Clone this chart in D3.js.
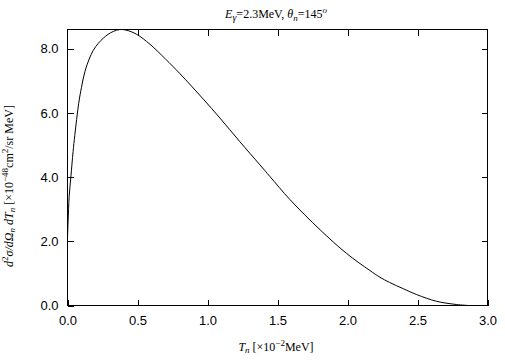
<!DOCTYPE html>
<html>
<head>
<meta charset="utf-8">
<script src="https://d3js.org/d3.v7.min.js"></script>
<style>
  body { margin: 0; background: #fff; }
  svg { display: block; }
  .tick text { font-family: "Liberation Sans", Arial, sans-serif; font-size: 13px; fill: #000; }
  .lbl { font-family: "Liberation Serif", "Times New Roman", serif; font-size: 12px; fill: #000; }
</style>
</head>
<body>
<div id="chart"></div>
<script>
// neutron kinetic energy T_n [x10^-2 MeV]
const tn = [0.0, 0.004, 0.012, 0.024, 0.04, 0.052, 0.08, 0.10, 0.125, 0.155, 0.184, 0.22,
  0.256, 0.29, 0.327, 0.375, 0.42, 0.494, 0.589, 0.70, 0.804, 0.97, 1.089, 1.232,
  1.375, 1.446, 1.589, 1.804, 1.994, 2.16, 2.232, 2.30, 2.40, 2.494, 2.637, 2.78, 2.863];
// d2sigma / dOmega_n dT_n [x10^-48 cm^2/sr MeV]
const sigma = [2.1, 2.6, 3.4, 4.0, 4.8, 5.3, 6.3, 6.8, 7.3, 7.68, 7.95, 8.17,
  8.33, 8.45, 8.54, 8.6, 8.58, 8.45, 8.14, 7.68, 7.22, 6.43, 5.84, 5.1,
  4.38, 4.02, 3.3, 2.36, 1.62, 1.09, 0.88, 0.72, 0.52, 0.34, 0.13, 0.03, 0.0];

const xTicks = [0, 0.5, 1.0, 1.5, 2.0, 2.5, 3.0];
const yTicks = [0, 2, 4, 6, 8];

const W = 505, H = 361;
const m = { left: 67.5, right: 487.5, top: 29.5, bottom: 305.5 };

const svg = d3.select("#chart").append("svg")
  .attr("width", W).attr("height", H);

const x = d3.scaleLinear().domain([0, 3.0]).range([m.left, m.right]);
const y = d3.scaleLinear().domain([0, 8.6]).range([m.bottom, m.top]);

// axes with inward ticks
svg.append("g")
  .attr("transform", `translate(0,${m.bottom})`)
  .call(d3.axisBottom(x).tickValues(xTicks).tickFormat(d3.format(".1f"))
    .tickSizeInner(-6).tickSizeOuter(0).tickPadding(10));
svg.append("g")
  .attr("transform", `translate(0,${m.top})`)
  .call(d3.axisTop(x).tickValues(xTicks.slice(1, -1)).tickFormat("")
    .tickSizeInner(-6).tickSizeOuter(0));
svg.append("g")
  .attr("transform", `translate(${m.left},0)`)
  .call(d3.axisLeft(y).tickValues(yTicks).tickFormat(d3.format(".1f"))
    .tickSizeInner(-6).tickSizeOuter(0).tickPadding(9));
svg.append("g")
  .attr("transform", `translate(${m.right},0)`)
  .call(d3.axisRight(y).tickValues(yTicks.slice(1)).tickFormat("")
    .tickSizeInner(-6).tickSizeOuter(0));

svg.selectAll(".domain").remove();
svg.selectAll(".tick line").attr("stroke", "#000").attr("shape-rendering", "crispEdges");

// frame
svg.append("rect")
  .attr("x", m.left).attr("y", m.top)
  .attr("width", m.right - m.left).attr("height", m.bottom - m.top)
  .attr("fill", "none").attr("stroke", "#000")
  .attr("shape-rendering", "crispEdges");

// curve
const pts = tn.map((t, i) => [t, sigma[i]]);
svg.append("path")
  .datum(pts)
  .attr("fill", "none")
  .attr("stroke", "#000")
  .attr("stroke-width", 1)
  .attr("d", d3.line().x(d => x(d[0])).y(d => y(d[1])).curve(d3.curveCatmullRom.alpha(0.5)));

// title
const title = svg.append("text").attr("class", "lbl")
  .attr("x", 276).attr("y", 18).attr("text-anchor", "middle");
title.append("tspan").attr("font-style", "italic").text("E");
title.append("tspan").attr("font-style", "italic").attr("font-size", "10px").attr("dy", 3).text("γ");
title.append("tspan").attr("dy", -3).text("=2.3MeV,  ");
title.append("tspan").attr("font-style", "italic").text("θ");
title.append("tspan").attr("font-style", "italic").attr("font-size", "9px").attr("dy", 3).text("n");
title.append("tspan").attr("dy", -3).text("=145");
title.append("tspan").attr("font-style", "italic").attr("font-size", "9px").attr("dy", -5).text("o");

// x label
const xl = svg.append("text").attr("class", "lbl")
  .attr("x", 276).attr("y", 351).attr("text-anchor", "middle");
xl.append("tspan").attr("font-style", "italic").text("T");
xl.append("tspan").attr("font-style", "italic").attr("font-size", "9px").attr("dy", 2).text("n");
xl.append("tspan").attr("dy", -2).text(" [×10");
xl.append("tspan").attr("font-size", "9px").attr("dy", -5).text("−2");
xl.append("tspan").attr("dy", 5).text("MeV]");

// y label
const yl = svg.append("text").attr("class", "lbl")
  .attr("transform", "translate(13,186) rotate(-90)")
  .attr("text-anchor", "middle");
yl.append("tspan").attr("font-style", "italic").text("d");
yl.append("tspan").attr("font-size", "9px").attr("dy", -5).text("2");
yl.append("tspan").attr("font-style", "italic").attr("dy", 5).text("σ/d");
yl.append("tspan").attr("font-style", "italic").text("Ω");
yl.append("tspan").attr("font-style", "italic").attr("font-size", "9px").attr("dy", 2).text("n");
yl.append("tspan").attr("font-style", "italic").attr("dy", -2).text("  dT");
yl.append("tspan").attr("font-style", "italic").attr("font-size", "9px").attr("dy", 2).text("n");
yl.append("tspan").attr("dy", -2).text(" [×10");
yl.append("tspan").attr("font-size", "9px").attr("dy", -5).text("−48");
yl.append("tspan").attr("dy", 5).text("cm");
yl.append("tspan").attr("font-size", "9px").attr("dy", -5).text("2");
yl.append("tspan").attr("dy", 5).text("/sr MeV]");
</script>
</body>
</html>
